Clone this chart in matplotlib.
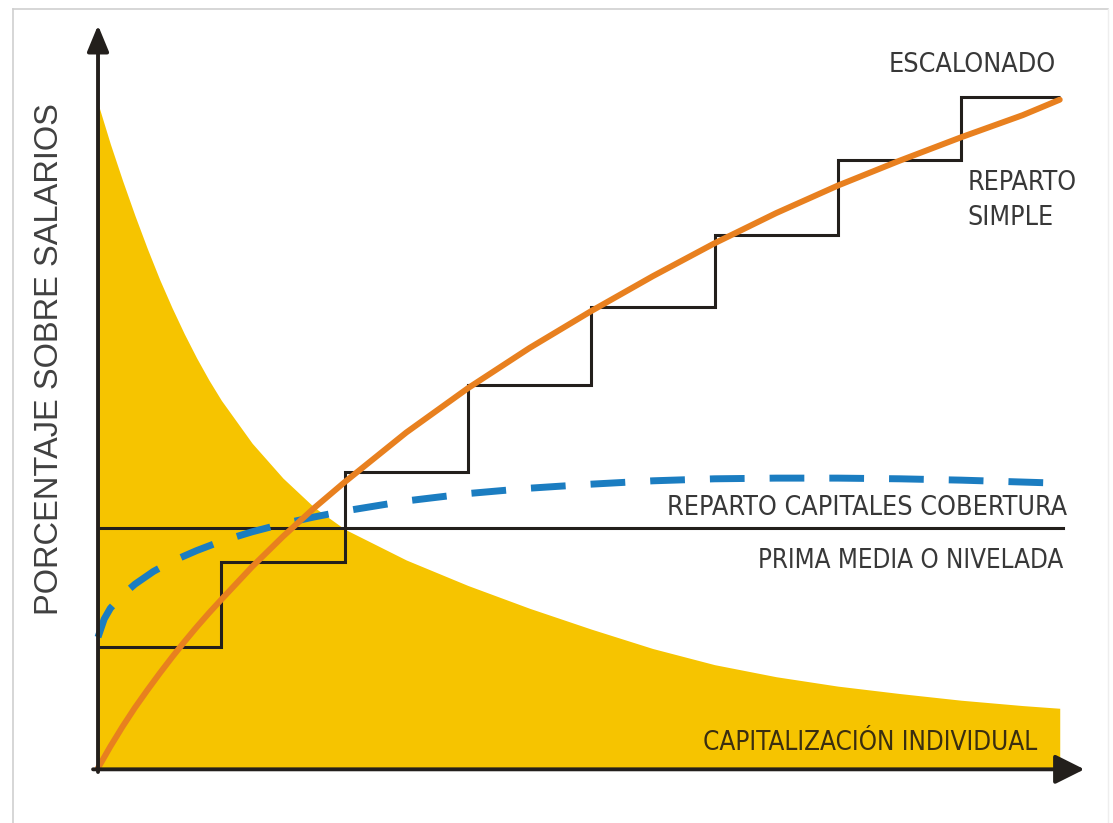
import matplotlib.pyplot as plt
from matplotlib.lines import Line2D

# --- data (x in periods, y in % of salaries) ---
step_edges = [0, 1, 2, 3, 4, 5, 6, 7, 7.8]
step_levels = [18.0, 30.7, 44.1, 57.1, 68.7, 79.4, 90.6, 100.0]

prima_media = 35.8
prima_x = [0, 7.83]

simple_x = [0, 0.1, 0.2, 0.3, 0.4, 0.5, 0.6, 0.7, 0.8, 0.9, 1.0, 1.25, 1.5, 1.75, 2.0,
            2.5, 3.0, 3.5, 4.0, 4.5, 5.0, 5.5, 6.0, 6.5, 7.0, 7.5, 7.8]
simple_y = [0, 3.2, 6.2, 9.0, 11.6, 14.1, 16.5, 18.8, 21.0, 23.1, 25.1, 30.0, 34.5, 38.7, 42.6,
            50.0, 56.6, 62.6, 68.1, 73.3, 78.2, 82.7, 86.8, 90.5, 94.0, 97.3, 99.6]

cobertura_x = [0, 0.05, 0.1, 0.2, 0.3, 0.45, 0.6, 0.8, 1.0, 1.25, 1.5, 1.75, 2.0,
               2.5, 3.0, 3.5, 4.0, 4.5, 5.0, 5.5, 6.0, 6.5, 7.0, 7.7]
cobertura_y = [19.5, 22.2, 23.8, 25.8, 27.4, 29.3, 30.8, 32.4, 33.8, 35.2, 36.4, 37.4, 38.3,
               39.8, 40.9, 41.7, 42.3, 42.8, 43.1, 43.2, 43.2, 43.1, 42.9, 42.5]

capital_x = [0, 0.1, 0.2, 0.3, 0.4, 0.5, 0.6, 0.7, 0.8, 0.9, 1.0, 1.25, 1.5, 1.75,
             2.0, 2.5, 3.0, 3.5, 4.0, 4.5, 5.0, 5.5, 6.0, 6.5, 7.0, 7.5, 7.8]
capital_y = [99, 93, 87.5, 82.3, 77.4, 72.8, 68.6, 64.7, 61.1, 57.8, 54.8, 48.4, 43.2, 38.9,
             35.6, 31.0, 27.2, 23.8, 20.7, 17.8, 15.4, 13.6, 12.2, 11.1, 10.1, 9.3, 8.9]

YELLOW = "#F6C400"
ORANGE = "#E8801F"
BLUE = "#1B7DC1"
DARK = "#231F1C"
TEXT = "#383838"

fig = plt.figure(figsize=(11.13, 8.23), dpi=100)
ax = fig.add_axes([0, 0, 1, 1])
ax.set_xlim(-0.795, 8.232)
ax.set_ylim(-8.2, 114.46)
ax.axis("off")

# capitalizacion individual (yellow area)
ax.fill_between(capital_x, 0, capital_y, color=YELLOW, lw=0, zorder=1)

# escalonado
ax.stairs(step_levels, step_edges, baseline=None, color=DARK, lw=2.2, zorder=3)

# prima media o nivelada
ax.plot(prima_x, [prima_media, prima_media], color=DARK, lw=2.2, zorder=3)

# reparto capitales cobertura
ax.plot(cobertura_x, cobertura_y, color=BLUE, lw=5, dashes=(5, 3.6),
        solid_capstyle="butt", zorder=4)

# reparto simple
ax.plot(simple_x, simple_y, color=ORANGE, lw=4.3, solid_capstyle="round",
        solid_joinstyle="round", zorder=5)

# axes with arrows
ax.annotate("", xy=(0, 110.7), xytext=(0, -0.6),
            arrowprops=dict(arrowstyle="-|>,head_length=0.8,head_width=0.33",
                            lw=2.8, color=DARK, mutation_scale=20,
                            shrinkA=0, shrinkB=0), zorder=6)
ax.annotate("", xy=(8.0, -0.2), xytext=(-0.04, -0.2),
            arrowprops=dict(arrowstyle="-|>,head_length=0.9,head_width=0.45",
                            lw=2.8, color=DARK, mutation_scale=20,
                            shrinkA=0, shrinkB=0), zorder=6)

# labels
lab = dict(family="DejaVu Sans", fontstretch="condensed", color=TEXT)
ax.text(7.09, 103.7, "ESCALONADO", ha="center", va="baseline", fontsize=19.3, **lab)
ax.text(7.05, 86.1, "REPARTO", ha="left", va="baseline", fontsize=19.2, **lab)
ax.text(7.05, 80.9, "SIMPLE", ha="left", va="baseline", fontsize=19.2, **lab)
ax.text(7.86, 37.7, "REPARTO CAPITALES COBERTURA", ha="right", va="baseline",
        fontsize=19.3, **lab)
ax.text(7.83, 29.8, "PRIMA MEDIA O NIVELADA", ha="right", va="baseline",
        fontsize=18.6, **lab)
ax.text(7.62, 2.7, "CAPITALIZACIÓN INDIVIDUAL", ha="right", va="baseline",
        fontsize=18.7, family="DejaVu Sans", fontstretch="condensed",
        color="#3a2e10", zorder=7)
ax.text(-0.39, 61.0, "PORCENTAJE SOBRE SALARIOS", rotation=90, ha="center",
        va="center", fontsize=23.5, family="Liberation Sans", color="#404040")

# light frame around the picture
W, H = 1113, 823
fc = "#cfcfcf"
fig.add_artist(Line2D([13 / W, 13 / W], [0, 1 - 9 / H], color=fc, lw=1.2))
fig.add_artist(Line2D([13 / W, 1108 / W], [1 - 9 / H, 1 - 9 / H], color=fc, lw=1.2))
fig.add_artist(Line2D([1108 / W, 1108 / W], [0, 1 - 9 / H], color="#eeeeee", lw=1.0))

fig.savefig("out.png", dpi=100)
